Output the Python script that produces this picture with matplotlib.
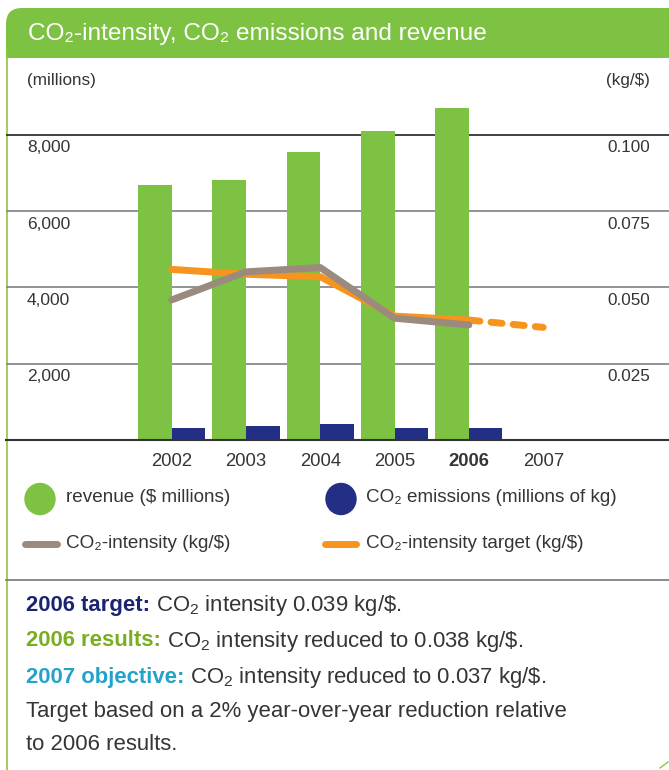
import numpy as np
import matplotlib
matplotlib.use("Agg")
import matplotlib.pyplot as plt
from matplotlib.path import Path
from matplotlib.patches import PathPatch, Ellipse
import matplotlib.transforms as mtransforms

plt.rcParams['font.family'] = ['Liberation Sans', 'DejaVu Sans']
plt.rcParams['mathtext.fontset'] = 'custom'
plt.rcParams['mathtext.rm'] = 'Liberation Sans'

# data
years = ['2002', '2003', '2004', '2005', '2006', '2007']
revenue = [6690, 6820, 7550, 8100, 8700]          # $ millions
emissions = [315, 365, 420, 315, 315]             # millions of kg
intensity = [0.0459, 0.0551, 0.0565, 0.0399, 0.0377]
target = [0.0559, 0.0543, 0.0535, 0.0406, 0.0393]
target_2007 = 0.0369
left_ticks = [2000, 4000, 6000, 8000]
right_ticks = ['0.025', '0.050', '0.075', '0.100']

GREEN = '#7dc242'
NAVY = '#232f85'
GREY = '#9b8b7e'
ORANGE = '#f7941d'
TXT = '#353535'

W, H = 669, 770
fig = plt.figure(figsize=(W / 100, H / 100), dpi=100)

# pixel canvas for the frame, header and notes
bg = fig.add_axes([0, 0, 1, 1])
bg.set_xlim(0, W)
bg.set_ylim(H, 0)
bg.axis('off')

r = 16
verts = [(6, 58), (6, 8 + r), (6, 8), (6 + r, 8), (W, 8), (W, 58), (6, 58)]
codes = [Path.MOVETO, Path.LINETO, Path.CURVE3, Path.CURVE3, Path.LINETO, Path.LINETO, Path.CLOSEPOLY]
bg.add_patch(PathPatch(Path(verts, codes), facecolor=GREEN, edgecolor='none'))
bg.plot([6.5, 6.5], [50, H], color='#8dc63f', lw=1.2)
bg.plot([660, 668], [768, 762], color='#8dc63f', lw=1.0)
bg.plot([6, W], [580, 580], color='#777777', lw=1.2)

bg.text(28, 34, 'CO₂-intensity, CO₂ emissions and revenue', color='white',
        fontsize=17.6, va='center', ha='left')
bg.text(27, 80, '(millions)', color=TXT, fontsize=12.3, va='center')
bg.text(650, 80, '(kg/$)', color=TXT, fontsize=12.3, va='center', ha='right')

# main chart axes, pixel layout: baseline y=440, 2000 per 76.3 px
px_per_unit = 76.3 / 2000
top_px = 100
ymax = (440 - top_px) / px_per_unit
x0, dx = 171.7, 74.3
ax = fig.add_axes([6 / W, (H - 440) / H, (W - 6) / W, (440 - top_px) / H])
ax.set_xlim((6 - x0) / dx, (W - x0) / dx)
ax.set_ylim(0, ymax)
ax.axis('off')
ax2 = ax.twinx()
ax2.set_ylim(0, ymax * 0.025 / 2000)
ax2.axis('off')

for v in left_ticks:
    col = '#333333' if v == 8000 else '#8a8a8a'
    ax.axhline(v, color=col, lw=1.3, zorder=1)
ax.axhline(0, color='#333333', lw=1.5, zorder=5, clip_on=False)

trans = mtransforms.blended_transform_factory(bg.transData, ax.transData)
for v, rl in zip(left_ticks, right_ticks):
    ax.text(27, v - 13 / px_per_unit, f'{v:,}', transform=trans, color=TXT,
            fontsize=12.5, va='center', ha='left')
    ax.text(650, v - 13 / px_per_unit, rl, transform=trans, color=TXT,
            fontsize=12.3, va='center', ha='right')

x = np.arange(len(revenue))
bw = 33.5 / dx
ax.bar(x - bw / 2, revenue, width=bw, color=GREEN, zorder=2)
ax.bar(x + bw / 2, emissions, width=bw, color=NAVY, zorder=2)

ax2.plot(x, target, color=ORANGE, lw=5, solid_capstyle='round', zorder=3)
ax2.plot([x[-1], x[-1] + 1], [target[-1], target_2007], color=ORANGE, lw=5,
         dash_capstyle='round', dashes=(1.6, 1.6), zorder=3)
ax2.plot(x, intensity, color=GREY, lw=5, solid_capstyle='round', zorder=4)

ytrans = mtransforms.blended_transform_factory(ax.transData, bg.transData)
for i, yr in enumerate(years):
    ax.text(i, 462, yr, transform=ytrans, color=TXT, fontsize=13.3,
            ha='center', va='center', fontweight='bold' if yr == '2006' else 'normal')

# legend
bg.add_patch(Ellipse((40, 499), 30, 31, color=GREEN))
bg.add_patch(Ellipse((341, 499), 30, 31, color=NAVY))
bg.plot([25, 57], [544, 544], color=GREY, lw=5, solid_capstyle='round')
bg.plot([325, 356], [544, 544], color=ORANGE, lw=5, solid_capstyle='round')
bg.text(66, 498, 'revenue ($ millions)', color=TXT, fontsize=13.6, va='center')
bg.text(366, 498, 'CO₂ emissions (millions of kg)', color=TXT, fontsize=13.6, va='center')
bg.text(66, 544, 'CO₂-intensity (kg/$)', color=TXT, fontsize=13.6, va='center')
bg.text(366, 544, 'CO₂-intensity target (kg/$)', color=TXT, fontsize=13.6, va='center')

# notes below the chart
notes = [
    ('2006 target:', '#1b2470', ' CO$_2$ intensity 0.039 kg/$\\$$.'),
    ('2006 results:', '#7aad1f', ' CO$_2$ intensity reduced to 0.038 kg/$\\$$.'),
    ('2007 objective:', '#23a3c9', ' CO$_2$ intensity reduced to 0.037 kg/$\\$$.'),
]
fig.canvas.draw()
renderer = fig.canvas.get_renderer()
inv = bg.transData.inverted()
ys = [605, 641, 677]
for (head, col, rest), yy in zip(notes, ys):
    t = bg.text(26, yy, head, color=col, fontsize=15.9, fontweight='bold', va='center')
    bb = t.get_window_extent(renderer)
    xe = inv.transform((bb.x1, bb.y0))[0]
    bg.text(xe, yy, rest, color=TXT, fontsize=15.9, va='center')
bg.text(26, 712, 'Target based on a 2% year-over-year reduction relative',
        color=TXT, fontsize=15.9, va='center')
bg.text(26, 745, 'to 2006 results.', color=TXT, fontsize=15.9, va='center')

fig.savefig('out.png', dpi=100)
